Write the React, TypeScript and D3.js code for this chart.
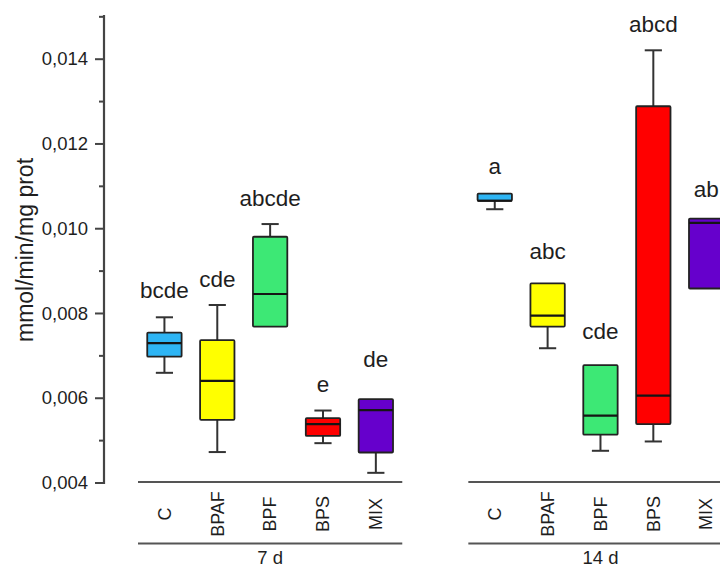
import React from "react";
import * as d3 from "d3";

const categories = ["C", "BPAF", "BPF", "BPS", "MIX"];
const groups = ["7 d", "14 d"];
const colors = ["#2EB5F4", "#FFFF00", "#3DE875", "#FF0000", "#6600CC"];

// 7 d
const min7 = [0.0066, 0.00473, 0.00769, 0.00494, 0.00424];
const q1_7 = [0.00698, 0.00549, 0.00769, 0.00511, 0.00472];
const med7 = [0.0073, 0.00641, 0.00846, 0.00539, 0.00572];
const q3_7 = [0.00755, 0.00737, 0.00981, 0.00553, 0.00598];
const max7 = [0.00791, 0.0082, 0.01011, 0.00571, 0.00598];
const letters7 = ["bcde", "cde", "abcde", "e", "de"];
const letterAt7 = [0.00836, 0.00862, 0.01053, 0.00615, 0.00674];

// 14 d
const min14 = [0.01046, 0.00718, 0.00476, 0.00498, 0.00859];
const q1_14 = [0.01066, 0.00769, 0.00514, 0.00539, 0.00859];
const med14 = [0.01066, 0.00795, 0.00559, 0.00606, 0.01014];
const q3_14 = [0.01083, 0.00871, 0.00678, 0.01289, 0.01024];
const max14 = [0.01083, 0.00871, 0.00678, 0.01421, 0.01024];
const letters14 = ["a", "abc", "cde", "abcd", "ab"];
const letterAt14 = [0.01129, 0.00929, 0.0074, 0.01464, 0.01075];

const majorTicks = [0.004, 0.006, 0.008, 0.01, 0.012, 0.014];
const minorTicks = [0.005, 0.007, 0.009, 0.011, 0.013, 0.015];

const groupData = [
  { min: min7, q1: q1_7, med: med7, q3: q3_7, max: max7, letters: letters7, letterAt: letterAt7 },
  { min: min14, q1: q1_14, med: med14, q3: q3_14, max: max14, letters: letters14, letterAt: letterAt14 },
];

const FONT = "'Liberation Sans', Arial, Helvetica, sans-serif";

export default function App() {
  const W = 720;
  const H = 567;
  const y = d3.scaleLinear().domain([0.004, 0.014]).range([483, 59.2]);
  const axisX = 104;
  const axisTop = 15;
  const outer = d3.scaleBand<string>().domain(groups).range([138, 732.6]).paddingInner(0.2).paddingOuter(0);
  const fmt = (v: number) => d3.format(".3f")(v).replace(".", ",");
  const stroke = "#333";

  return (
    <svg width={W} height={H} style={{ position: "absolute", left: 0, top: 0, background: "#fff" }} fontFamily={FONT}>
      {/* y axis */}
      <line x1={axisX} x2={axisX} y1={axisTop} y2={y(0.004) + 1} stroke="#444" strokeWidth={2.2} />
      {majorTicks.map((t) => (
        <g key={"M" + t}>
          <line x1={axisX - 9} x2={axisX} y1={y(t)} y2={y(t)} stroke="#444" strokeWidth={2} />
          <text x={88} y={y(t)} dy="0.33em" textAnchor="end" fontSize={18.5} fill="#1e1e1e">
            {fmt(t)}
          </text>
        </g>
      ))}
      {minorTicks.map((t) => (
        <line key={"m" + t} x1={axisX - 5} x2={axisX} y1={y(t)} y2={y(t)} stroke="#444" strokeWidth={2} />
      ))}
      <text
        transform={`translate(33,${250}) rotate(-90)`}
        textAnchor="middle"
        fontSize={23}
        fill="#1e1e1e"
      >
        mmol/min/mg prot
      </text>

      {groups.map((g, gi) => {
        const gx0 = outer(g)!;
        const inner = d3.scaleBand<string>().domain(categories).range([gx0, gx0 + outer.bandwidth()]);
        const bw = inner.bandwidth() * 0.65;
        const cap = bw / 2;
        const gd = groupData[gi];
        return (
          <g key={g}>
            {categories.map((c, i) => {
              const cx = inner(c)! + inner.bandwidth() / 2;
              const x0 = cx - bw / 2;
              return (
                <g key={c}>
                  {gd.max[i] > gd.q3[i] && (
                    <g>
                      <line x1={cx} x2={cx} y1={y(gd.max[i])} y2={y(gd.q3[i])} stroke={stroke} strokeWidth={2} />
                      <line x1={cx - cap / 2} x2={cx + cap / 2} y1={y(gd.max[i])} y2={y(gd.max[i])} stroke={stroke} strokeWidth={2} />
                    </g>
                  )}
                  {gd.min[i] < gd.q1[i] && (
                    <g>
                      <line x1={cx} x2={cx} y1={y(gd.q1[i])} y2={y(gd.min[i])} stroke={stroke} strokeWidth={2} />
                      <line x1={cx - cap / 2} x2={cx + cap / 2} y1={y(gd.min[i])} y2={y(gd.min[i])} stroke={stroke} strokeWidth={2} />
                    </g>
                  )}
                  <rect
                    x={x0}
                    y={y(gd.q3[i])}
                    width={bw}
                    height={y(gd.q1[i]) - y(gd.q3[i])}
                    fill={colors[i]}
                    stroke="#222"
                    strokeWidth={1.8}
                    rx={1}
                  />
                  <line x1={x0} x2={x0 + bw} y1={y(gd.med[i])} y2={y(gd.med[i])} stroke="#151515" strokeWidth={2.2} />
                  <text x={cx} y={y(gd.letterAt[i])} textAnchor="middle" fontSize={22.5} fill="#1e1e1e">
                    {gd.letters[i]}
                  </text>
                  <text
                    transform={`translate(${cx},${514}) rotate(-90)`}
                    textAnchor="middle"
                    dy="0.35em"
                    fontSize={18}
                    fill="#1e1e1e"
                  >
                    {c}
                  </text>
                </g>
              );
            })}
            <line x1={gx0} x2={gx0 + outer.bandwidth()} y1={482} y2={482} stroke="#555" strokeWidth={2.2} />
            <line x1={gx0} x2={gx0 + outer.bandwidth()} y1={543.5} y2={543.5} stroke="#555" strokeWidth={2.2} />
            <text x={gx0 + outer.bandwidth() / 2} y={564} textAnchor="middle" fontSize={18.5} fill="#1e1e1e">
              {g}
            </text>
          </g>
        );
      })}
    </svg>
  );
}
